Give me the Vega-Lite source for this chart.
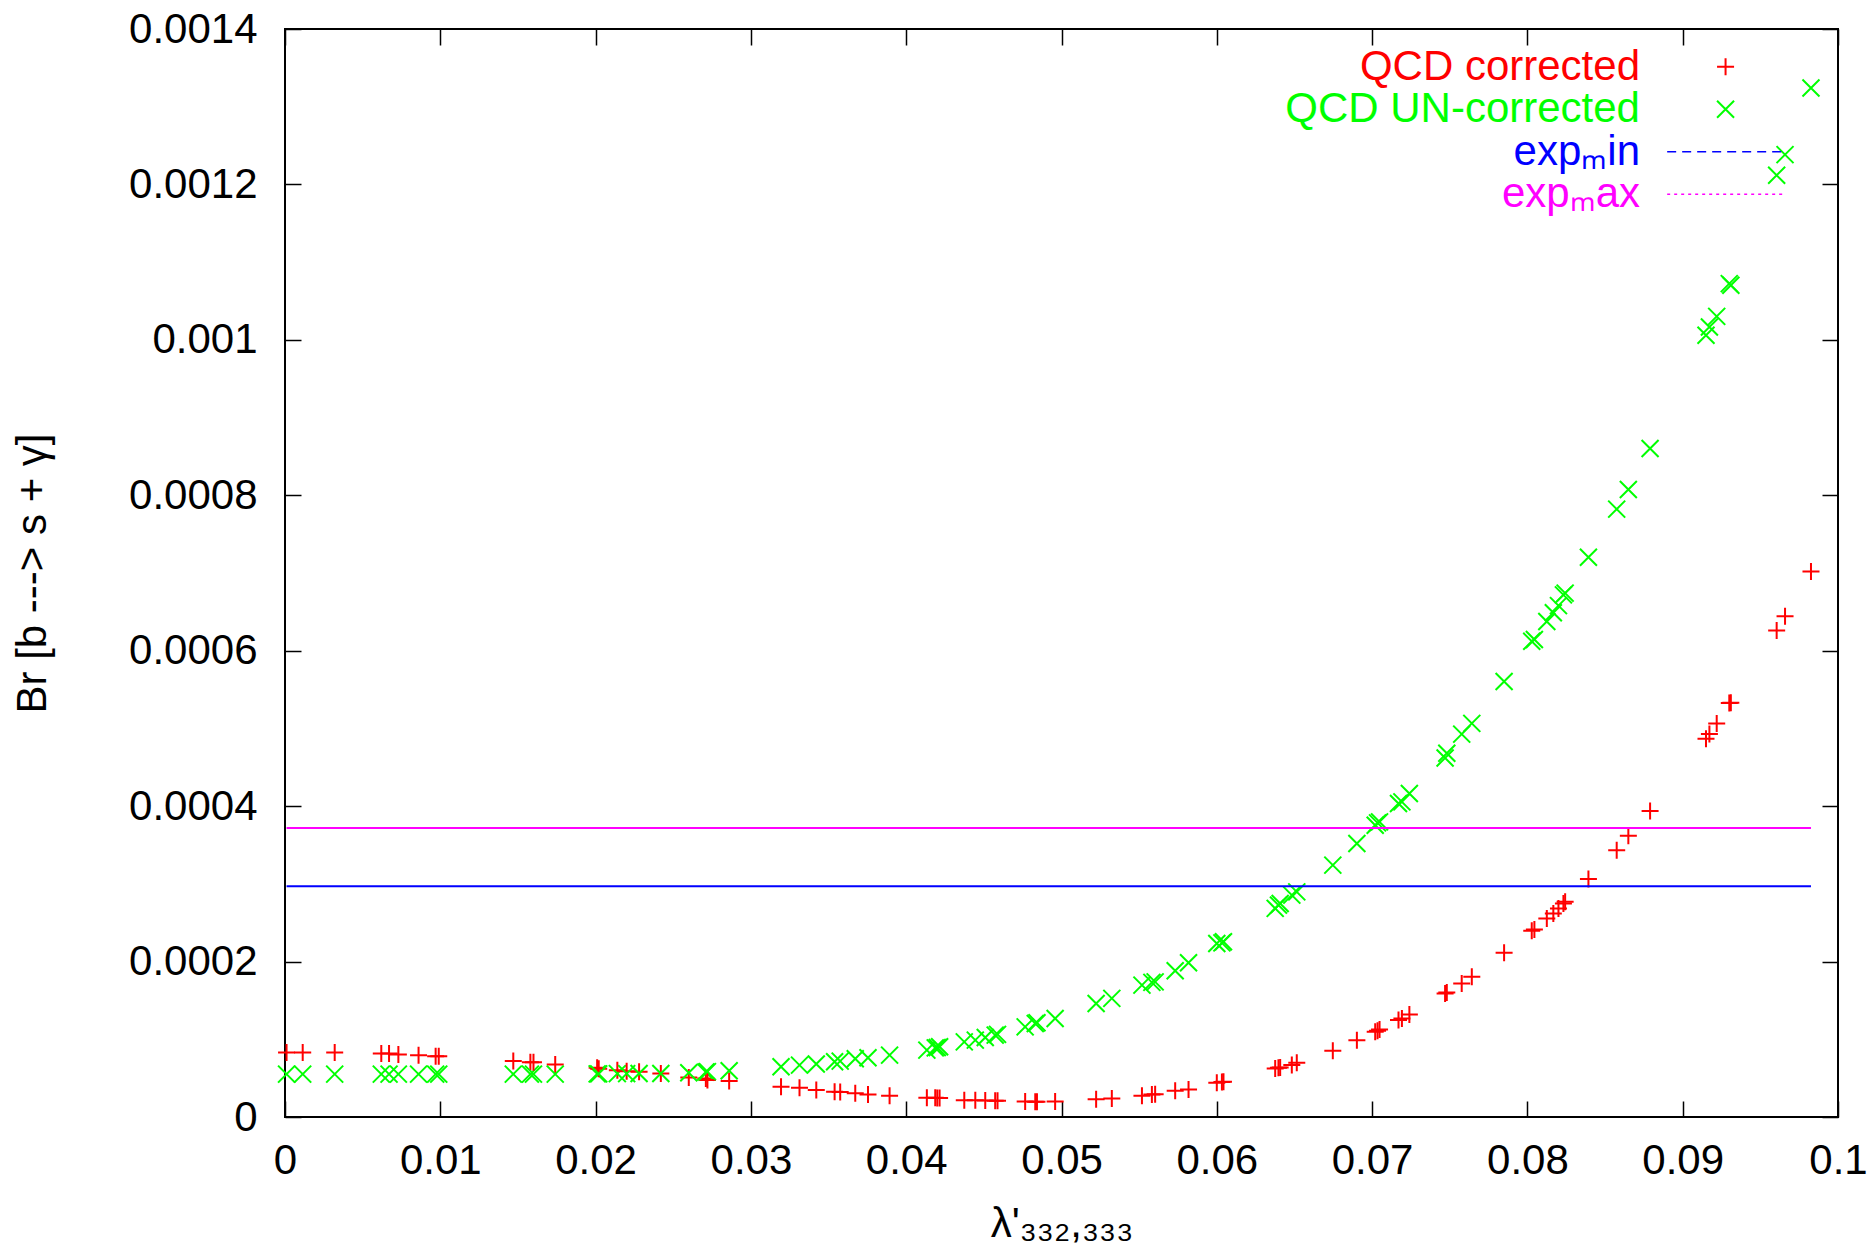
{
  "$schema": "https://vega.github.io/schema/vega-lite/v6.json",
  "width": 1553,
  "height": 1088,
  "autosize": {"type": "none"},
  "padding": {"left": 285, "top": 29, "right": 37, "bottom": 142},
  "background": "white",
  "config": {
    "font": "Liberation Sans",
    "view": {"stroke": "black", "strokeWidth": 2},
    "axis": {
      "grid": false, "domain": false, "tickColor": "black", "tickWidth": 1.5, "tickSize": -16,
      "labelFontSize": 42, "labelColor": "black", "labelFont": "Liberation Sans",
      "titleFont": "Liberation Sans", "titleFontSize": 42, "titleFontWeight": "normal", "titleColor": "black",
      "labelFlush": false, "labelOverlap": false, "labelBound": false
    }
  },
  "datasets": {
    "values": [
      {"lam": 0.0001, "QCD corrected": 8.31e-5, "QCD UN-corrected": 5.52e-5},
      {"lam": 0.00114, "QCD corrected": 8.31e-5, "QCD UN-corrected": 5.52e-5},
      {"lam": 0.0032, "QCD corrected": 8.31e-5, "QCD UN-corrected": 5.52e-5},
      {"lam": 0.0062, "QCD corrected": 8.18e-5, "QCD UN-corrected": 5.52e-5},
      {"lam": 0.0067, "QCD corrected": 8.18e-5, "QCD UN-corrected": 5.52e-5},
      {"lam": 0.0073, "QCD corrected": 8.05e-5, "QCD UN-corrected": 5.52e-5},
      {"lam": 0.0086, "QCD corrected": 7.96e-5, "QCD UN-corrected": 5.52e-5},
      {"lam": 0.0097, "QCD corrected": 7.83e-5, "QCD UN-corrected": 5.52e-5},
      {"lam": 0.0099, "QCD corrected": 7.83e-5, "QCD UN-corrected": 5.52e-5},
      {"lam": 0.0147, "QCD corrected": 7.19e-5, "QCD UN-corrected": 5.52e-5},
      {"lam": 0.0158, "QCD corrected": 7.06e-5, "QCD UN-corrected": 5.52e-5},
      {"lam": 0.0160, "QCD corrected": 7.06e-5, "QCD UN-corrected": 5.52e-5},
      {"lam": 0.0174, "QCD corrected": 6.77e-5, "QCD UN-corrected": 5.52e-5},
      {"lam": 0.0201, "QCD corrected": 6.33e-5, "QCD UN-corrected": 5.55e-5},
      {"lam": 0.0202, "QCD corrected": 6.22e-5, "QCD UN-corrected": 5.55e-5},
      {"lam": 0.0214, "QCD corrected": 6.03e-5, "QCD UN-corrected": 5.58e-5},
      {"lam": 0.0220, "QCD corrected": 5.9e-5, "QCD UN-corrected": 5.58e-5},
      {"lam": 0.0228, "QCD corrected": 5.82e-5, "QCD UN-corrected": 5.6e-5},
      {"lam": 0.0242, "QCD corrected": 5.6e-5, "QCD UN-corrected": 5.6e-5},
      {"lam": 0.0260, "QCD corrected": 5.09e-5, "QCD UN-corrected": 5.69e-5},
      {"lam": 0.0271, "QCD corrected": 4.96e-5, "QCD UN-corrected": 5.8e-5},
      {"lam": 0.0272, "QCD corrected": 4.75e-5, "QCD UN-corrected": 5.84e-5},
      {"lam": 0.0286, "QCD corrected": 4.62e-5, "QCD UN-corrected": 5.95e-5},
      {"lam": 0.03194, "QCD corrected": 3.89e-5, "QCD UN-corrected": 6.46e-5},
      {"lam": 0.03313, "QCD corrected": 3.76e-5, "QCD UN-corrected": 6.68e-5},
      {"lam": 0.03421, "QCD corrected": 3.46e-5, "QCD UN-corrected": 6.81e-5},
      {"lam": 0.03539, "QCD corrected": 3.25e-5, "QCD UN-corrected": 7.1e-5},
      {"lam": 0.03575, "QCD corrected": 3.22e-5, "QCD UN-corrected": 7.19e-5},
      {"lam": 0.03672, "QCD corrected": 3.04e-5, "QCD UN-corrected": 7.5e-5},
      {"lam": 0.03754, "QCD corrected": 2.9e-5, "QCD UN-corrected": 7.62e-5},
      {"lam": 0.03893, "QCD corrected": 2.73e-5, "QCD UN-corrected": 7.96e-5},
      {"lam": 0.04133, "QCD corrected": 2.47e-5, "QCD UN-corrected": 8.61e-5},
      {"lam": 0.04187, "QCD corrected": 2.47e-5, "QCD UN-corrected": 8.9e-5},
      {"lam": 0.04200, "QCD corrected": 2.45e-5, "QCD UN-corrected": 8.95e-5},
      {"lam": 0.04215, "QCD corrected": 2.45e-5, "QCD UN-corrected": 9.03e-5},
      {"lam": 0.04374, "QCD corrected": 2.17e-5, "QCD UN-corrected": 9.67e-5},
      {"lam": 0.04445, "QCD corrected": 2.15e-5, "QCD UN-corrected": 9.89e-5},
      {"lam": 0.04509, "QCD corrected": 2.12e-5, "QCD UN-corrected": 1.024e-4},
      {"lam": 0.04573, "QCD corrected": 2.08e-5, "QCD UN-corrected": 1.054e-4},
      {"lam": 0.04588, "QCD corrected": 2.08e-5, "QCD UN-corrected": 1.063e-4},
      {"lam": 0.04766, "QCD corrected": 1.98e-5, "QCD UN-corrected": 1.16e-4},
      {"lam": 0.04831, "QCD corrected": 1.96e-5, "QCD UN-corrected": 1.204e-4},
      {"lam": 0.04842, "QCD corrected": 1.96e-5, "QCD UN-corrected": 1.212e-4},
      {"lam": 0.04959, "QCD corrected": 1.98e-5, "QCD UN-corrected": 1.268e-4},
      {"lam": 0.05223, "QCD corrected": 2.3e-5, "QCD UN-corrected": 1.461e-4},
      {"lam": 0.05324, "QCD corrected": 2.39e-5, "QCD UN-corrected": 1.526e-4},
      {"lam": 0.05518, "QCD corrected": 2.73e-5, "QCD UN-corrected": 1.697e-4},
      {"lam": 0.05582, "QCD corrected": 2.9e-5, "QCD UN-corrected": 1.732e-4},
      {"lam": 0.05603, "QCD corrected": 2.92e-5, "QCD UN-corrected": 1.739e-4},
      {"lam": 0.05732, "QCD corrected": 3.37e-5, "QCD UN-corrected": 1.881e-4},
      {"lam": 0.05818, "QCD corrected": 3.55e-5, "QCD UN-corrected": 1.984e-4},
      {"lam": 0.06000, "QCD corrected": 4.4e-5, "QCD UN-corrected": 2.233e-4},
      {"lam": 0.06033, "QCD corrected": 4.49e-5, "QCD UN-corrected": 2.241e-4},
      {"lam": 0.06043, "QCD corrected": 4.53e-5, "QCD UN-corrected": 2.254e-4},
      {"lam": 0.06376, "QCD corrected": 6.25e-5, "QCD UN-corrected": 2.684e-4},
      {"lam": 0.06397, "QCD corrected": 6.33e-5, "QCD UN-corrected": 2.726e-4},
      {"lam": 0.06408, "QCD corrected": 6.38e-5, "QCD UN-corrected": 2.748e-4},
      {"lam": 0.06483, "QCD corrected": 6.68e-5, "QCD UN-corrected": 2.855e-4},
      {"lam": 0.06515, "QCD corrected": 6.97e-5, "QCD UN-corrected": 2.897e-4},
      {"lam": 0.06747, "QCD corrected": 8.52e-5, "QCD UN-corrected": 3.241e-4},
      {"lam": 0.06902, "QCD corrected": 9.89e-5, "QCD UN-corrected": 3.52e-4},
      {"lam": 0.07020, "QCD corrected": 1.096e-4, "QCD UN-corrected": 3.755e-4},
      {"lam": 0.07035, "QCD corrected": 1.11e-4, "QCD UN-corrected": 3.785e-4},
      {"lam": 0.07048, "QCD corrected": 1.127e-4, "QCD UN-corrected": 3.798e-4},
      {"lam": 0.07170, "QCD corrected": 1.247e-4, "QCD UN-corrected": 4.034e-4},
      {"lam": 0.07192, "QCD corrected": 1.268e-4, "QCD UN-corrected": 4.055e-4},
      {"lam": 0.07240, "QCD corrected": 1.32e-4, "QCD UN-corrected": 4.163e-4},
      {"lam": 0.07470, "QCD corrected": 1.59e-4, "QCD UN-corrected": 4.62e-4},
      {"lam": 0.07481, "QCD corrected": 1.603e-4, "QCD UN-corrected": 4.68e-4},
      {"lam": 0.07577, "QCD corrected": 1.719e-4, "QCD UN-corrected": 4.927e-4},
      {"lam": 0.07642, "QCD corrected": 1.804e-4, "QCD UN-corrected": 5.065e-4},
      {"lam": 0.07850, "QCD corrected": 2.112e-4, "QCD UN-corrected": 5.603e-4},
      {"lam": 0.08028, "QCD corrected": 2.395e-4, "QCD UN-corrected": 6.121e-4},
      {"lam": 0.08045, "QCD corrected": 2.413e-4, "QCD UN-corrected": 6.144e-4},
      {"lam": 0.08125, "QCD corrected": 2.555e-4, "QCD UN-corrected": 6.375e-4},
      {"lam": 0.08167, "QCD corrected": 2.619e-4, "QCD UN-corrected": 6.489e-4},
      {"lam": 0.08200, "QCD corrected": 2.684e-4, "QCD UN-corrected": 6.58e-4},
      {"lam": 0.08232, "QCD corrected": 2.748e-4, "QCD UN-corrected": 6.719e-4},
      {"lam": 0.08243, "QCD corrected": 2.769e-4, "QCD UN-corrected": 6.741e-4},
      {"lam": 0.08393, "QCD corrected": 3.061e-4, "QCD UN-corrected": 7.202e-4},
      {"lam": 0.08575, "QCD corrected": 3.434e-4, "QCD UN-corrected": 7.822e-4},
      {"lam": 0.08650, "QCD corrected": 3.618e-4, "QCD UN-corrected": 8.074e-4},
      {"lam": 0.08790, "QCD corrected": 3.939e-4, "QCD UN-corrected": 8.603e-4},
      {"lam": 0.09150, "QCD corrected": 4.867e-4, "QCD UN-corrected": 1.0059e-3},
      {"lam": 0.09172, "QCD corrected": 4.927e-4, "QCD UN-corrected": 1.0166e-3},
      {"lam": 0.09219, "QCD corrected": 5.065e-4, "QCD UN-corrected": 1.0302e-3},
      {"lam": 0.09300, "QCD corrected": 5.326e-4, "QCD UN-corrected": 1.0724e-3},
      {"lam": 0.09310, "QCD corrected": 5.33e-4, "QCD UN-corrected": 1.0702e-3},
      {"lam": 0.09605, "QCD corrected": 6.259e-4, "QCD UN-corrected": 1.2118e-3},
      {"lam": 0.09659, "QCD corrected": 6.443e-4, "QCD UN-corrected": 1.2384e-3},
      {"lam": 0.09826, "QCD corrected": 7.018e-4, "QCD UN-corrected": 1.324e-3}
    ],
    "limits": [
      {"series": "expₘin", "br": 0.000297, "lam_from": 0.0001, "lam_to": 0.09826},
      {"series": "expₘax", "br": 0.000372, "lam_from": 0.0001, "lam_to": 0.09826}
    ],
    "key": [
      {"series": "QCD corrected", "rank": 1},
      {"series": "QCD UN-corrected", "rank": 2},
      {"series": "expₘin", "rank": 3},
      {"series": "expₘax", "rank": 4}
    ]
  },
  "layer": [
    {
      "data": {"name": "values"},
      "transform": [{"fold": ["QCD corrected", "QCD UN-corrected"], "as": ["series", "br"]}],
      "mark": {"type": "point", "filled": false, "opacity": 1, "strokeWidth": 2, "size": 289},
      "encoding": {
        "x": {
          "field": "lam", "type": "quantitative",
          "scale": {"domain": [0, 0.1], "nice": false, "zero": false},
          "axis": {"orient": "bottom", "values": [0, 0.01, 0.02, 0.03, 0.04, 0.05, 0.06, 0.07, 0.08, 0.09, 0.1], "format": "~g", "labelPadding": 39, "title": "λ'₃₃₂,₃₃₃", "titlePadding": 22}
        },
        "y": {
          "field": "br", "type": "quantitative",
          "scale": {"domain": [0, 0.0014], "nice": false, "zero": false},
          "axis": {"orient": "left", "values": [0, 0.0002, 0.0004, 0.0006, 0.0008, 0.001, 0.0012, 0.0014], "format": "~g", "labelPadding": 44, "title": "Br [b ---> s + γ]", "titlePadding": 74}
        },
        "color": {
          "field": "series", "type": "nominal",
          "scale": {"domain": ["QCD corrected", "QCD UN-corrected", "expₘin", "expₘax"], "range": ["#ff0000", "#00ff00", "#0000ff", "#ff00ff"]},
          "legend": null
        },
        "shape": {
          "field": "series", "type": "nominal",
          "scale": {"domain": ["QCD corrected", "QCD UN-corrected"], "range": ["M-1,0H1M0,-1V1", "M-1,-1L1,1M-1,1L1,-1"]},
          "legend": null
        }
      }
    },
    {
      "data": {"name": "limits"},
      "mark": {"type": "rule", "strokeWidth": 2},
      "encoding": {
        "x": {
          "field": "lam_from", "type": "quantitative",
          "axis": {"orient": "top", "values": [0, 0.01, 0.02, 0.03, 0.04, 0.05, 0.06, 0.07, 0.08, 0.09, 0.1], "labels": false, "title": null}
        },
        "x2": {"field": "lam_to"},
        "y": {
          "field": "br", "type": "quantitative",
          "scale": {"domain": [0, 0.0014], "nice": false, "zero": false},
          "axis": {"orient": "right", "values": [0, 0.0002, 0.0004, 0.0006, 0.0008, 0.001, 0.0012, 0.0014], "labels": false, "title": null}
        },
        "color": {"field": "series", "type": "nominal", "legend": null}
      }
    },
    {
      "data": {"name": "key"},
      "mark": {"type": "text", "align": "right", "baseline": "middle", "fontSize": 42, "font": "Liberation Sans"},
      "encoding": {
        "x": {"datum": 0.08725, "type": "quantitative", "axis": null},
        "y": {"field": "rank", "type": "quantitative", "scale": {"domain": [0.1136, 25.696], "reverse": true, "nice": false, "zero": false}, "axis": null},
        "text": {"field": "series"},
        "color": {"field": "series", "type": "nominal", "legend": null}
      }
    },
    {
      "data": {"name": "key"},
      "transform": [{"filter": {"field": "series", "oneOf": ["QCD corrected", "QCD UN-corrected"]}}],
      "mark": {"type": "point", "filled": false, "opacity": 1, "strokeWidth": 2, "size": 289},
      "encoding": {
        "x": {"datum": 0.09276, "type": "quantitative", "axis": null},
        "y": {"field": "rank", "type": "quantitative", "scale": {"domain": [0.1136, 25.696], "reverse": true, "nice": false, "zero": false}, "axis": null},
        "color": {"field": "series", "type": "nominal", "legend": null},
        "shape": {"field": "series", "type": "nominal", "legend": null}
      }
    },
    {
      "data": {"name": "key"},
      "transform": [{"filter": {"field": "series", "oneOf": ["expₘin", "expₘax"]}}],
      "mark": {"type": "rule", "strokeWidth": 1.5},
      "encoding": {
        "x": {"datum": 0.089, "type": "quantitative", "axis": null},
        "x2": {"datum": 0.09653},
        "y": {"field": "rank", "type": "quantitative", "scale": {"domain": [0.1136, 25.696], "reverse": true, "nice": false, "zero": false}, "axis": null},
        "color": {"field": "series", "type": "nominal", "legend": null},
        "strokeDash": {"field": "series", "type": "nominal", "scale": {"domain": ["expₘin", "expₘax"], "range": [[9, 6], [3, 4]]}, "legend": null}
      }
    }
  ],
  "resolve": {"scale": {"y": "independent"}, "axis": {"x": "independent", "y": "independent"}}
}
